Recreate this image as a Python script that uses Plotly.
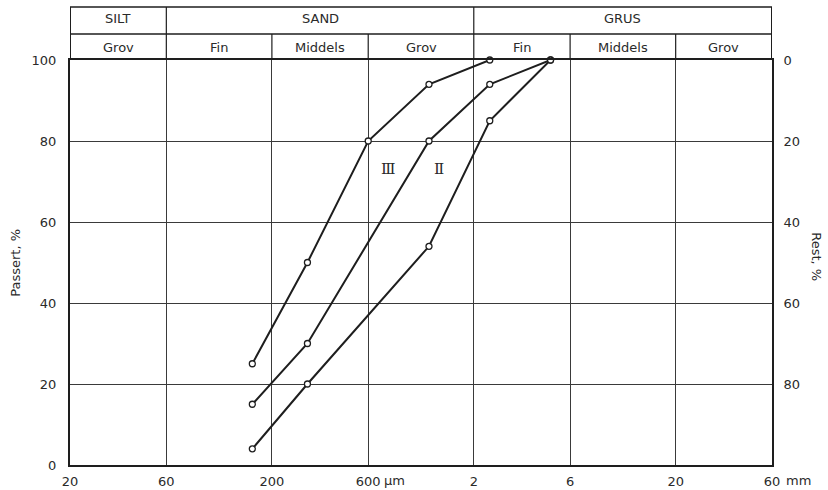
import math
import plotly.graph_objects as go

# Sieve sizes (mm) and percent passing for the three grading curves
size_I = [0.16, 0.3, 1.2, 2.4, 4.8]
pass_I = [4, 20, 54, 85, 100]

size_II = [0.16, 0.3, 1.2, 2.4, 4.8]
pass_II = [15, 30, 80, 94, 100]

size_III = [0.16, 0.3, 0.6, 1.2, 2.4]
pass_III = [25, 50, 80, 94, 100]

# Curve labels: text, grain size (mm), percent passing
curve_labels = [("Ⅲ", 0.75, 73), ("Ⅱ", 1.35, 73)]

# Grain-size axis ticks (mm)
x_tickvals = [0.02, 0.06, 0.2, 0.6, 2, 6, 20, 60]
x_ticktext = ["20", "60", "200", "600", "2", "6", "20", "60"]

# Passing / residue ticks (%)
pass_ticks = [0, 20, 40, 60, 80, 100]
rest_ticks = [0, 20, 40, 60, 80]

# Soil fraction header: main classes and sub-classes with their bounds (mm)
main_classes = ["SILT", "SAND", "GRUS"]
main_bounds = [0.02, 0.06, 2, 60]
sub_classes = ["Grov", "Fin", "Middels", "Grov", "Fin", "Middels", "Grov"]
sub_bounds = [0.02, 0.06, 0.2, 0.6, 2, 6, 20, 60]

INK = "#1e1e1e"
GRID = "#3a3a3a"
TXT = "#2a2a2a"
FONT = "DejaVu Sans"

H_TOP = 1.131   # top edge of header (paper)
H_MID = 1.064   # divider between the two header rows (paper)


def label(text, x, y, xref="paper", yref="paper", **kw):
    d = dict(text=text, xref=xref, yref=yref, x=x, y=y, showarrow=False,
             xanchor="center", yanchor="middle",
             font=dict(family=FONT, size=13, color=TXT))
    d.update(kw)
    return d


fig = go.Figure()

for xs, ys in [(size_I, pass_I), (size_II, pass_II), (size_III, pass_III)]:
    fig.add_trace(go.Scatter(
        x=xs, y=ys, mode="lines+markers",
        line=dict(color=INK, width=2),
        marker=dict(symbol="circle", size=6, color="white",
                    line=dict(color=INK, width=1.3)),
        showlegend=False, hoverinfo="skip", cliponaxis=False,
    ))

# residue axis (right) carries the complementary scale
fig.add_trace(go.Scatter(
    x=size_III, y=[100 - p for p in pass_III], yaxis="y2",
    mode="lines", line=dict(width=0, color="rgba(0,0,0,0)"),
    showlegend=False, hoverinfo="skip",
))

shapes = []
# header frame
for yy in (H_TOP, H_MID):
    shapes.append(dict(type="line", xref="paper", yref="paper",
                       x0=0, x1=1, y0=yy, y1=yy,
                       line=dict(color=INK, width=1.5)))
for b in (main_bounds[0], main_bounds[-1]):
    shapes.append(dict(type="line", xref="x", yref="paper",
                       x0=b, x1=b, y0=1, y1=H_TOP,
                       line=dict(color=INK, width=2)))
for b in main_bounds[1:-1]:
    shapes.append(dict(type="line", xref="x", yref="paper",
                       x0=b, x1=b, y0=H_MID, y1=H_TOP,
                       line=dict(color=INK, width=1.2)))
for b in sub_bounds[1:-1]:
    shapes.append(dict(type="line", xref="x", yref="paper",
                       x0=b, x1=b, y0=1, y1=H_MID,
                       line=dict(color=INK, width=1.2)))

annotations = []
for name, a, b in zip(main_classes, main_bounds[:-1], main_bounds[1:]):
    annotations.append(label(name, (math.log10(a) + math.log10(b)) / 2,
                             (H_MID + H_TOP) / 2 + 0.004, xref="x"))
for name, a, b in zip(sub_classes, sub_bounds[:-1], sub_bounds[1:]):
    annotations.append(label(name, (math.log10(a) + math.log10(b)) / 2,
                             (1 + H_MID) / 2, xref="x"))

# unit suffixes after the tick numbers
annotations.append(label("µm", math.log10(0.6), 0, xref="x",
                         xanchor="left", yshift=-15, xshift=14))
annotations.append(label("mm", math.log10(60), 0, xref="x",
                         xanchor="left", yshift=-15, xshift=12))

# axis titles
annotations.append(label("Passert, %", -0.078, 0.5, textangle=-90))
annotations.append(label("Rest, %", 1.063, 0.515, textangle=90))

for txt, xv, yv in curve_labels:
    annotations.append(label(txt, math.log10(xv), yv, xref="x", yref="y",
                             font=dict(family="DejaVu Serif", size=15, color=TXT)))

fig.update_layout(
    width=828, height=490,
    margin=dict(l=70, r=56, t=60, b=25),
    paper_bgcolor="white", plot_bgcolor="white",
    shapes=shapes, annotations=annotations,
    xaxis=dict(
        type="log", range=[math.log10(0.02), math.log10(60)],
        tickvals=x_tickvals, ticktext=x_ticktext,
        showgrid=True, gridcolor=GRID, gridwidth=1,
        showline=True, linecolor=INK, linewidth=2, mirror=True,
        ticks="outside", ticklen=3, tickcolor="rgba(0,0,0,0)",
        tickfont=dict(family=FONT, size=13, color=TXT),
        zeroline=False, automargin=False,
    ),
    yaxis=dict(
        range=[0, 100], tickvals=pass_ticks,
        showgrid=True, gridcolor=GRID, gridwidth=1,
        showline=True, linecolor=INK, linewidth=2, mirror=True,
        ticks="outside", ticklen=9, tickcolor="rgba(0,0,0,0)",
        tickfont=dict(family=FONT, size=13, color=TXT),
        zeroline=False, automargin=False,
    ),
    yaxis2=dict(
        overlaying="y", side="right", range=[100, 0],
        tickvals=rest_ticks, showgrid=False, zeroline=False,
        showline=False, automargin=False,
        ticks="outside", ticklen=8, tickcolor="rgba(0,0,0,0)",
        tickfont=dict(family=FONT, size=13, color=TXT),
    ),
)

fig.write_html("out.html")
